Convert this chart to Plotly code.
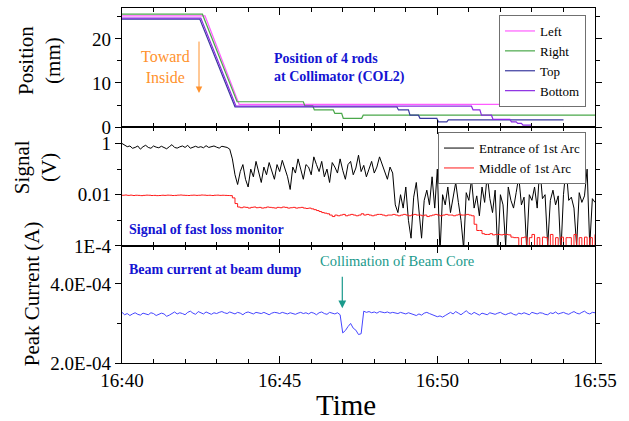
import pandas as pd
import plotly.graph_objects as go

DAY = "2020-01-01 "

# ---- Collimator rod positions (mm): breakpoints of the step profiles ----
left_t = ["16:40:00", "16:42:38", "16:43:43", "16:53:55", "16:54:00"]
left_mm = [25.2, 25.2, 5.15, 5.15, 4.6]

right_t = ["16:40:00", "16:42:33", "16:43:39", "16:45:45", "16:45:48", "16:46:03", "16:46:06",
           "16:46:42", "16:46:45", "16:46:58", "16:47:01", "16:47:36", "16:47:39", "16:55:00"]
right_mm = [25.6, 25.6, 5.75, 5.75, 4.8, 4.8, 3.9, 3.9, 3.1, 3.1, 2.0, 2.0, 2.7, 2.7]

top_t = ["16:40:00", "16:42:28", "16:43:35", "16:48:43", "16:48:46", "16:49:05", "16:49:08",
         "16:49:24", "16:49:27", "16:49:59", "16:50:02", "16:50:18", "16:50:21", "16:54:00"]
top_mm = [24.5, 24.5, 4.6, 4.6, 3.9, 3.9, 2.7, 2.7, 2.0, 2.0, 1.2, 1.2, 1.65, 1.65]

bottom_t = ["16:40:00", "16:42:30", "16:43:37", "16:51:05", "16:51:08", "16:51:21", "16:51:24",
            "16:51:43", "16:51:46", "16:52:18", "16:52:21", "16:52:30", "16:52:33", "16:52:40",
            "16:52:43", "16:53:00"]
bottom_mm = [24.7, 24.7, 4.75, 4.75, 3.9, 3.9, 2.7, 2.7, 1.75, 1.75, 1.2, 1.2, 0.84, 0.84, 0.45, 0.45]

# ---- Fast loss monitor signals (V), sampled every 5 s from 16:40:00 ----
entrance_v = [
    1.0, 0.85, 0.75, 0.8, 0.65, 0.7, 0.8, 0.6, 0.75, 0.85, 0.7, 0.65, 0.8, 0.72, 0.68, 0.78,
    0.7, 0.62, 0.75, 0.9, 0.7, 0.66, 0.74, 0.8, 0.7, 0.85, 0.65, 0.72, 0.78, 0.7, 0.75, 0.68,
    0.82, 0.7, 0.74, 0.8, 0.72, 0.66, 0.78, 0.75, 0.7, 0.6,
    0.25, 0.06, 0.025, 0.08, 0.15, 0.04, 0.02, 0.1, 0.05, 0.2, 0.07, 0.03, 0.12, 0.06, 0.18,
    0.09, 0.04, 0.15, 0.08, 0.22, 0.1, 0.05, 0.016, 0.12, 0.07, 0.25, 0.1, 0.04, 0.15,
    0.12, 0.06, 0.3, 0.15, 0.08, 0.2, 0.05, 0.1, 0.03, 0.18, 0.12, 0.07, 0.25, 0.09, 0.04,
    0.15, 0.2, 0.06, 0.11, 0.35, 0.08, 0.14, 0.05, 0.1, 0.2, 0.07, 0.12, 0.3, 0.16, 0.09,
    0.04, 0.12, 0.07,
    0.004, 0.002, 0.01, 0.003, 0.02, 0.001, 0.0002, 0.008, 0.03, 0.002, 0.0002, 0.006,
    0.015, 0.004, 0.05, 0.003, 0.1, 0.00005, 0.01, 0.004, 0.02, 0.002, 0.008, 0.03, 0.005,
    0.001, 0.00008, 0.012, 0.006, 0.04, 0.003, 0.009, 0.0015, 0.02, 0.005, 0.06, 0.007,
    0.002, 0.015, 0.00005, 0.01, 0.004, 0.0001, 0.02, 0.006, 0.003, 0.012, 0.05, 0.004,
    0.008, 0.00008, 0.01, 0.006, 0.02, 0.003, 0.12, 0.007, 0.01, 0.0001, 0.006, 0.015,
    0.004, 0.009, 0.00005, 0.01, 0.12, 0.006, 0.008, 0.003, 0.0001, 0.012, 0.005, 0.009,
    0.1, 0.0001, 0.007, 0.005,
]

middle_v = [
    0.0095, 0.0097, 0.0094, 0.0096, 0.0093, 0.0095, 0.0094, 0.0092, 0.0094, 0.0096, 0.0095,
    0.0093, 0.0094, 0.0092, 0.0093, 0.0095, 0.0094, 0.0096, 0.0095, 0.0093, 0.0094, 0.0096,
    0.0097, 0.0095, 0.0094, 0.0093, 0.0095, 0.0096, 0.0094, 0.0095, 0.0097, 0.0096, 0.0094,
    0.0095, 0.0093, 0.0095, 0.0096, 0.0094, 0.0095, 0.0094, 0.0093, 0.0092,
    0.0075, 0.0045, 0.0033,
    0.0031, 0.0033, 0.0032, 0.0030, 0.0032, 0.0033, 0.0031, 0.0032, 0.0030, 0.0031, 0.0033,
    0.0032, 0.0031, 0.0030, 0.0032, 0.0031, 0.0033, 0.0032, 0.0030, 0.0031, 0.0032, 0.0030,
    0.0031, 0.0032, 0.0030, 0.0029, 0.0030,
    0.0028, 0.0026, 0.0024, 0.0022, 0.0020, 0.0019, 0.0018, 0.0016, 0.0014, 0.0016, 0.0015,
    0.0016, 0.0017, 0.0015, 0.0016, 0.0017, 0.0016, 0.0015, 0.0016, 0.0018, 0.0016, 0.0017,
    0.0016, 0.0015, 0.0016, 0.0017, 0.0017, 0.0016, 0.0015, 0.0016, 0.0016, 0.0017, 0.0016,
    0.0015, 0.0016, 0.0017, 0.0016, 0.0015, 0.0016, 0.0017, 0.0016, 0.0016, 0.0015, 0.0016,
    0.0014, 0.0015, 0.0016, 0.0017, 0.0016, 0.0015, 0.0016, 0.0017, 0.0016, 0.0016, 0.0015,
    0.0016, 0.0017, 0.0016, 0.0016, 0.0017, 0.0016, 0.0015,
    0.0007, 0.0004, 0.0004, 0.0003, 0.00028, 0.00028, 0.0003, 0.00027, 0.00028, 0.00028,
    0.00027, 0.00028, 0.00028, 0.00027, 0.00022, 0.00021, 0.00021, 0.00005, 0.00021, 0.00022,
    0.00005, 0.00021, 0.00028, 0.00005, 0.00021, 0.00005, 0.00022, 0.00021, 0.00005, 0.00028,
    0.00005, 0.00021, 0.00005, 0.00022, 0.00005, 0.00021, 0.00021, 0.00005, 0.00028, 0.00005,
    0.00021, 0.00005, 0.00022, 0.00005, 0.00021, 0.00005, 0.00028,
]

# ---- Peak beam current at the beam dump (A), sampled every 5 s ----
current_a = [
    3.28e-4, 3.22e-4, 3.25e-4, 3.20e-4, 3.24e-4, 3.27e-4, 3.23e-4, 3.21e-4, 3.26e-4, 3.24e-4,
    3.22e-4, 3.27e-4, 3.25e-4, 3.20e-4, 3.23e-4, 3.26e-4, 3.24e-4, 3.18e-4, 3.21e-4, 3.26e-4,
    3.29e-4, 3.24e-4, 3.27e-4, 3.25e-4, 3.22e-4, 3.28e-4, 3.31e-4, 3.26e-4, 3.23e-4, 3.30e-4,
    3.27e-4, 3.24e-4, 3.29e-4, 3.26e-4, 3.23e-4, 3.27e-4, 3.25e-4, 3.28e-4, 3.30e-4, 3.27e-4,
    3.25e-4, 3.29e-4, 3.27e-4, 3.24e-4, 3.28e-4, 3.26e-4, 3.22e-4, 3.27e-4, 3.29e-4, 3.26e-4,
    3.24e-4, 3.28e-4, 3.27e-4, 3.25e-4, 3.28e-4, 3.24e-4, 3.22e-4, 3.26e-4, 3.28e-4, 3.27e-4,
    3.25e-4, 3.28e-4, 3.26e-4, 3.24e-4, 3.27e-4, 3.25e-4, 3.23e-4, 3.26e-4, 3.28e-4, 3.25e-4,
    3.27e-4, 3.24e-4, 3.28e-4, 3.26e-4, 3.22e-4, 3.27e-4, 3.29e-4, 3.25e-4, 3.23e-4, 3.28e-4,
    3.26e-4, 3.24e-4, 3.27e-4, 3.22e-4,
    2.76e-4, 2.82e-4, 2.92e-4, 3.00e-4, 2.88e-4, 2.83e-4, 2.72e-4, 2.74e-4,
    3.31e-4, 3.28e-4, 3.30e-4, 3.27e-4, 3.29e-4, 3.26e-4, 3.30e-4, 3.28e-4, 3.27e-4, 3.29e-4,
    3.26e-4, 3.28e-4, 3.27e-4, 3.25e-4, 3.28e-4, 3.26e-4, 3.24e-4, 3.27e-4, 3.25e-4, 3.22e-4,
    3.20e-4, 3.24e-4, 3.21e-4, 3.26e-4, 3.28e-4, 3.25e-4, 3.22e-4, 3.20e-4, 3.17e-4, 3.19e-4,
    3.16e-4, 3.20e-4, 3.25e-4, 3.28e-4, 3.24e-4, 3.30e-4, 3.26e-4, 3.22e-4, 3.27e-4, 3.32e-4,
    3.26e-4, 3.23e-4, 3.28e-4, 3.25e-4, 3.21e-4, 3.26e-4, 3.24e-4, 3.22e-4, 3.27e-4, 3.25e-4,
    3.23e-4, 3.26e-4, 3.28e-4, 3.24e-4, 3.22e-4, 3.25e-4, 3.27e-4, 3.23e-4, 3.21e-4, 3.26e-4,
    3.24e-4, 3.27e-4, 3.25e-4, 3.22e-4, 3.28e-4, 3.25e-4, 3.24e-4, 3.27e-4, 3.26e-4, 3.23e-4,
    3.22e-4, 3.27e-4, 3.25e-4, 3.29e-4, 3.24e-4, 3.26e-4, 3.28e-4, 3.25e-4, 3.23e-4, 3.27e-4,
    3.30e-4, 3.26e-4, 3.24e-4, 3.28e-4, 3.31e-4, 3.26e-4, 3.24e-4, 3.28e-4, 3.27e-4,
]

x_tick_labels = ["16:40", "16:45", "16:50", "16:55"]
signal_ticks = [1e-4, 0.01, 1]
signal_tick_labels = ["1E-4", "0.01", "1"]
current_ticks = [2.0e-4, 4.0e-4]
current_tick_labels = ["2.0E-04", "4.0E-04"]


def stamps(times):
    return pd.to_datetime([DAY + t for t in times])


def sampled(values):
    return pd.date_range(DAY + "16:40:00", periods=len(values), freq="5s")


FONT = "Liberation Serif"
W, H = 629, 421
L, R, T, B = 122, 34, 8, 58.3
PW, PH = W - L - R, H - T - B


def px(xp):
    return (xp - L) / PW


def py(yp):
    return (H - B - yp) / PH


fig = go.Figure()

rods = [("Left", left_t, left_mm, "#ff5cff"),
        ("Right", right_t, right_mm, "#4aa84a"),
        ("Top", top_t, top_mm, "#3a3a9e"),
        ("Bottom", bottom_t, bottom_mm, "#8a2be2")]
for name, t, v, c in rods:
    fig.add_trace(go.Scatter(x=stamps(t), y=v, name=name, mode="lines",
                             line=dict(color=c, width=1.2), xaxis="x", yaxis="y",
                             legend="legend"))

fig.add_trace(go.Scatter(x=sampled(entrance_v), y=entrance_v, name="Entrance of 1st Arc",
                         mode="lines", line=dict(color="black", width=1),
                         xaxis="x2", yaxis="y2", legend="legend2"))
fig.add_trace(go.Scatter(x=sampled(middle_v), y=middle_v, name="Middle of 1st Arc",
                         mode="lines", line=dict(color="#ff1a1a", width=1, shape="hv"),
                         xaxis="x2", yaxis="y2", legend="legend2"))
fig.add_trace(go.Scatter(x=sampled(current_a), y=current_a, name="Peak current",
                         mode="lines", line=dict(color="#4646ff", width=1),
                         xaxis="x3", yaxis="y3", showlegend=False))

x_range = [DAY + "16:40:00", DAY + "16:55:00"]
x_common = dict(type="date", range=x_range, showline=True, linecolor="black", linewidth=1.3,
                mirror="ticks", ticks="inside", ticklen=7, tickcolor="black", tickwidth=1,
                tickmode="array", tickvals=[DAY + s + ":00" for s in x_tick_labels],
                ticktext=x_tick_labels,
                minor=dict(ticks="inside", ticklen=4, dtick=60000, tickcolor="black"),
                showgrid=False, zeroline=False)

y_common = dict(showline=True, linecolor="black", linewidth=1.3, mirror="ticks",
                ticks="outside", ticklen=6, tickcolor="black", tickwidth=1,
                showgrid=False, zeroline=False, tickfont=dict(family=FONT, size=19, color="black"))

d1 = [py(127), 1.0]
d2 = [py(245.7), py(127)]
d3 = [0.0, py(245.7)]

legend_style = dict(xanchor="right", yanchor="top", bgcolor="white", bordercolor="#707070",
                    borderwidth=1, font=dict(family=FONT, size=13), tracegroupgap=0,
                    itemwidth=30)

fig.update_layout(
    width=W, height=H, margin=dict(l=L, r=R, t=T, b=B),
    paper_bgcolor="white", plot_bgcolor="white",
    font=dict(family=FONT, color="black"),
    xaxis=dict(x_common, anchor="y", showticklabels=False),
    xaxis2=dict(x_common, anchor="y2", matches="x", showticklabels=False),
    xaxis3=dict(x_common, anchor="y3", matches="x", showticklabels=True,
                tickfont=dict(family=FONT, size=19, color="black")),
    yaxis=dict(y_common, domain=d1, anchor="x", range=[0, 27], tickvals=[0, 10, 20],
               minor=dict(ticks="outside", ticklen=4, tickvals=[5, 15, 25], tickcolor="black")),
    yaxis2=dict(y_common, domain=d2, anchor="x2", type="log", range=[-4, 0.64],
                tickvals=signal_ticks, ticktext=signal_tick_labels,
                minor=dict(ticks="outside", ticklen=4, tickvals=[1e-3, 0.1], tickcolor="black")),
    yaxis3=dict(y_common, domain=d3, anchor="x3", range=[2.0e-4, 4.96e-4],
                tickvals=current_ticks, ticktext=current_tick_labels,
                minor=dict(ticks="outside", ticklen=4, tickvals=[3.0e-4], tickcolor="black")),
    legend=dict(legend_style, x=px(586), y=py(15)),
    legend2=dict(legend_style, x=px(586), y=py(132)),
)

ann = []
# axis titles
ann.append(dict(text="Position<br>(mm)", x=px(39), y=py(61), textangle=-90,
                font=dict(family=FONT, size=21)))
ann.append(dict(text="Signal<br>(V)", x=px(35), y=py(167), textangle=-90,
                font=dict(family=FONT, size=21)))
ann.append(dict(text="Peak Current (A)", x=px(32), y=py(294), textangle=-90,
                font=dict(family=FONT, size=21)))
ann.append(dict(text="Time", x=px(346), y=py(405), font=dict(family=FONT, size=29)))
# panel notes
ann.append(dict(text="Toward<br>Inside", x=px(165), y=py(67),
                font=dict(family=FONT, size=16, color="#ff922e")))
ann.append(dict(text="<b>Position of 4 rods<br>at Collimator (COL2)</b>", x=px(272), y=py(68),
                xanchor="left", align="left", font=dict(family=FONT, size=14, color="#1414d2")))
ann.append(dict(text="<b>Signal of fast loss monitor</b>", x=px(127), y=py(229),
                xanchor="left", font=dict(family=FONT, size=14, color="#1414d2")))
ann.append(dict(text="<b>Beam current at beam dump</b>", x=px(127), y=py(269),
                xanchor="left", font=dict(family=FONT, size=14, color="#1414d2")))
ann.append(dict(text="Collimation of Beam Core", x=px(397), y=py(261),
                font=dict(family=FONT, size=14.5, color="#1a9a8c")))
for a in ann:
    a.setdefault("xanchor", "center")
    a.update(xref="paper", yref="paper", yanchor="middle", showarrow=False)

# arrows
ann.append(dict(x=px(199), y=py(93), xref="paper", yref="paper", ax=0, ay=-53, text="",
                showarrow=True, arrowhead=2, arrowsize=1.3, arrowwidth=1, arrowcolor="#ff922e"))
ann.append(dict(x=px(342.3), y=py(308), xref="paper", yref="paper", ax=0, ay=-33, text="",
                showarrow=True, arrowhead=2, arrowsize=1.3, arrowwidth=1.2, arrowcolor="#1a9a8c"))
fig.update_layout(annotations=ann)

fig.write_html("out.html")
